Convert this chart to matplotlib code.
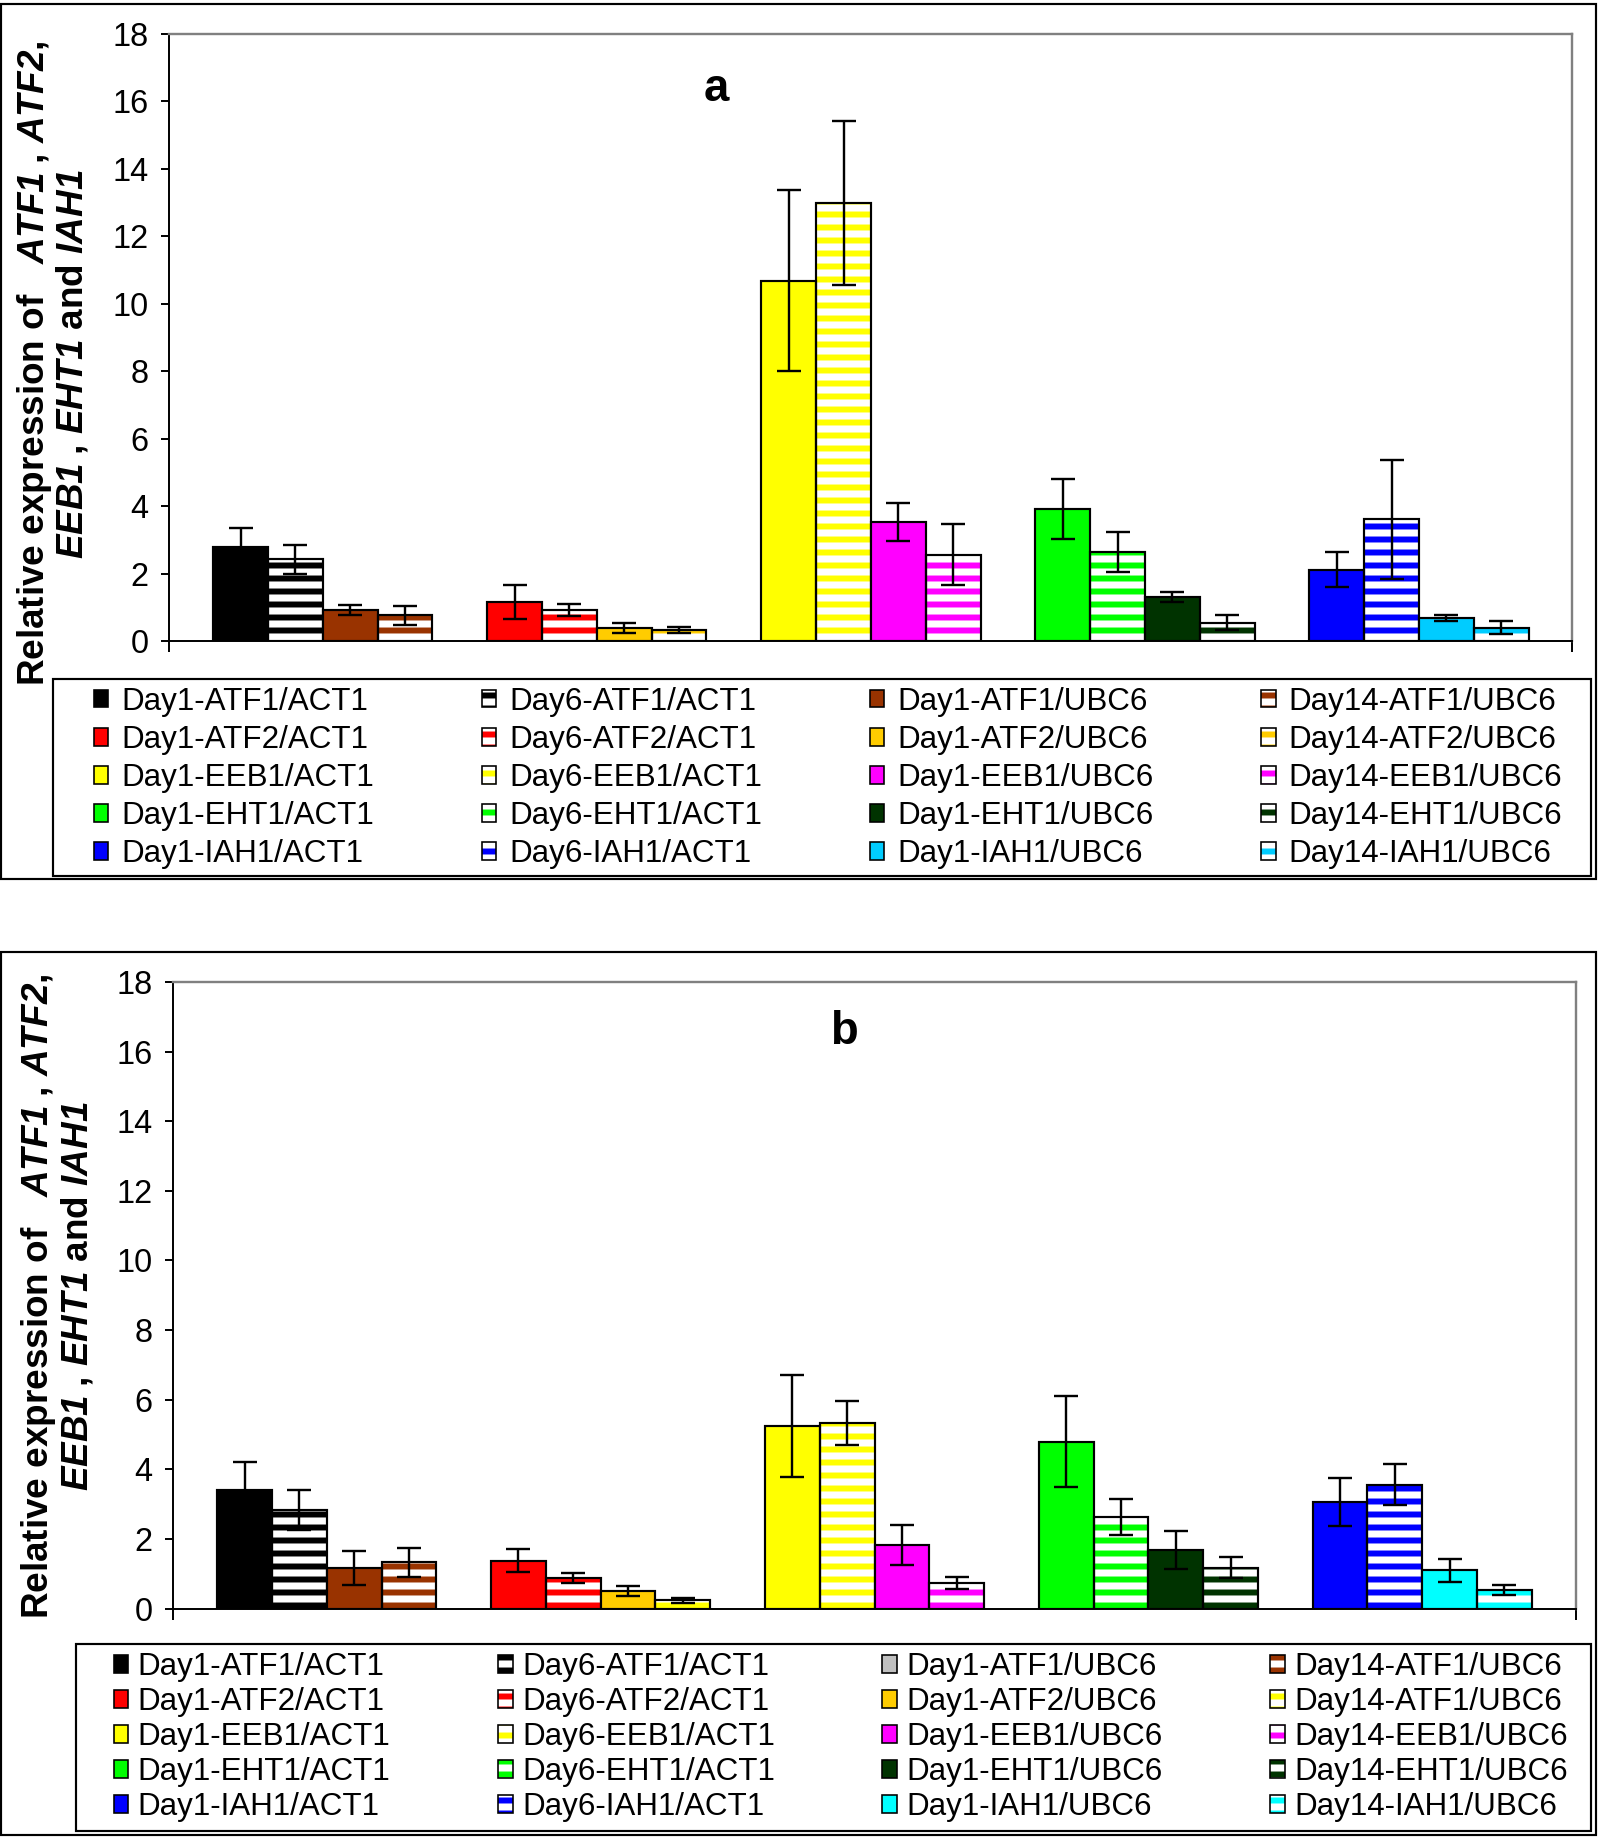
import matplotlib
matplotlib.use('Agg')
import matplotlib.pyplot as plt
from matplotlib.patches import Patch, Rectangle
import numpy as np

DPI = 78

plt.rcParams['font.family'] = ['Liberation Sans', 'DejaVu Sans']
plt.rcParams['hatch.linewidth'] = 5.5
plt.rcParams['mathtext.fontset'] = 'custom'
plt.rcParams['mathtext.rm'] = 'Liberation Sans'
plt.rcParams['mathtext.bf'] = 'Liberation Sans:bold'
plt.rcParams['mathtext.it'] = 'Liberation Sans:italic'
plt.rcParams['mathtext.bfit'] = 'Liberation Sans:italic:bold'

genes = ['ATF1', 'ATF2', 'EEB1', 'EHT1', 'IAH1']

# panel a
day1_act_a = [2.80, 1.15, 10.68, 3.92, 2.11]
day1_act_err_a = [0.56, 0.50, 2.68, 0.90, 0.52]
day6_act_a = [2.42, 0.92, 13.00, 2.64, 3.61]
day6_act_err_a = [0.43, 0.18, 2.43, 0.59, 1.77]
day1_ubc_a = [0.92, 0.40, 3.53, 1.31, 0.69]
day1_ubc_err_a = [0.15, 0.15, 0.56, 0.14, 0.08]
day14_ubc_a = [0.76, 0.33, 2.56, 0.55, 0.40]
day14_ubc_err_a = [0.27, 0.10, 0.90, 0.23, 0.20]

# panel b
day1_act_b = [3.42, 1.38, 5.24, 4.80, 3.05]
day1_act_err_b = [0.79, 0.33, 1.46, 1.31, 0.69]
day6_act_b = [2.84, 0.88, 5.32, 2.63, 3.56]
day6_act_err_b = [0.58, 0.14, 0.63, 0.52, 0.58]
day1_ubc_b = [1.17, 0.51, 1.82, 1.69, 1.10]
day1_ubc_err_b = [0.48, 0.14, 0.58, 0.54, 0.33]
day14_ubc_b = [1.33, 0.24, 0.74, 1.18, 0.53]
day14_ubc_err_b = [0.41, 0.07, 0.18, 0.29, 0.15]

act_colors = ['#000000', '#FF0000', '#FFFF00', '#00FF00', '#0000FF']
ubc_colors_a = ['#993300', '#FFCC00', '#FF00FF', '#003300', '#00CCFF']
ubc_colors_b = ['#993300', '#FFCC00', '#FF00FF', '#003300', '#00FFFF']
ubc14_colors_b = ['#993300', '#FFFF00', '#FF00FF', '#003300', '#00FFFF']

labels_a = ['Day1-%s/ACT1' % g for g in genes] + ['Day6-%s/ACT1' % g for g in genes] + \
           ['Day1-%s/UBC6' % g for g in genes] + ['Day14-%s/UBC6' % g for g in genes]
labels_b = ['Day1-%s/ACT1' % g for g in genes] + ['Day6-%s/ACT1' % g for g in genes] + \
           ['Day1-%s/UBC6' % g for g in genes] + \
           ['Day14-ATF1/UBC6', 'Day14-ATF1/UBC6', 'Day14-EEB1/UBC6', 'Day14-EHT1/UBC6', 'Day14-IAH1/UBC6']
legend_b_ubc_colors = ['#C0C0C0', '#FFCC00', '#FF00FF', '#003300', '#00FFFF']

ylabel_text = (r"$\mathbf{Relative\ expression\ of}\ \ \ \mathbfit{ATF1}\;\mathbf{,}\ \mathbfit{ATF2}\mathbf{,}$" + "\n" +
               r"$\mathbfit{EEB1}\;\mathbf{,}\ \mathbfit{EHT1}\ \mathbf{and}\ \mathbfit{IAH1}$")

BAR_W = 0.2
EDGE_LW = 2.0


def draw_bars(ax, values, errors, colors, striped, pos):
    x = np.arange(len(values)) + pos
    if striped:
        ax.bar(x, values, BAR_W, color='white', edgecolor=colors, hatch='-', linewidth=0, zorder=2)
        ax.bar(x, values, BAR_W, fill=False, edgecolor='black', linewidth=EDGE_LW, zorder=3)
    else:
        ax.bar(x, values, BAR_W, color=colors, edgecolor='black', linewidth=EDGE_LW, zorder=3)
    ax.errorbar(x, values, yerr=errors, fmt='none', ecolor='black', elinewidth=2.2,
                capsize=11, capthick=2.2, zorder=4)


def style_axes(ax, title, tx, ty):
    ax.set_xlim(-0.56, 4.56)
    ax.set_ylim(0, 18)
    ax.set_yticks(range(0, 19, 2))
    ax.set_xticks([-0.56, 4.56])
    ax.set_xticklabels(['', ''])
    ax.tick_params(axis='y', direction='out', length=7, width=1.8, labelsize=30, pad=12)
    ax.tick_params(axis='x', direction='out', length=10, width=1.8)
    for s in ['left', 'bottom']:
        ax.spines[s].set_color('black')
        ax.spines[s].set_linewidth(1.8)
    for s in ['top', 'right']:
        ax.spines[s].set_color('#808080')
        ax.spines[s].set_linewidth(2.2)
    ax.text(tx, ty, title, transform=ax.transAxes, fontsize=42, fontweight='bold',
            ha='center', va='center')


def legend_handles(colors_cols, striped_cols):
    handles = []
    for colors, striped in zip(colors_cols, striped_cols):
        for c in colors:
            if striped:
                handles.append((Patch(facecolor='white', edgecolor=c, hatch='-', linewidth=0),
                                Patch(facecolor='none', edgecolor='black', linewidth=1.5)))
            else:
                handles.append(Patch(facecolor=c, edgecolor='black', linewidth=1.5))
    return handles


fig = plt.figure(figsize=((1598 + 0.01) / DPI, (1837 + 0.01) / DPI), dpi=DPI)

# ---------------- panel a
ax1 = fig.add_axes([0.106, 0.651, 0.984 - 0.106, 0.9815 - 0.651])
draw_bars(ax1, day1_act_a, day1_act_err_a, act_colors, False, -1.5 * BAR_W)
draw_bars(ax1, day6_act_a, day6_act_err_a, act_colors, True, -0.5 * BAR_W)
draw_bars(ax1, day1_ubc_a, day1_ubc_err_a, ubc_colors_a, False, 0.5 * BAR_W)
draw_bars(ax1, day14_ubc_a, day14_ubc_err_a, ubc_colors_a, True, 1.5 * BAR_W)
style_axes(ax1, 'a', 0.39, 0.91)
fig.text(0.033, 0.802, ylabel_text, rotation=90, fontsize=34, ha='center', va='center',
         multialignment='center', linespacing=1.05)

h_a = legend_handles([act_colors, act_colors, ubc_colors_a, ubc_colors_a], [False, True, False, True])
fig.legend(h_a, labels_a, ncol=4, mode='expand', frameon=False, loc='center',
           bbox_to_anchor=(93.7 / 1598, 0.5229, (1562 - 93.7) / 1598, 0.1072),
           fontsize=29, handlelength=0.47, handleheight=0.5, handletextpad=0.4,
           labelspacing=0.26, borderpad=0, borderaxespad=0)
fig.add_artist(Rectangle((0.033, 0.5229), 0.9627, 0.1072, transform=fig.transFigure,
                         fill=False, edgecolor='black', linewidth=2))
fig.add_artist(Rectangle((0.0006, 0.5217), 0.998, 0.998 - 0.5217, transform=fig.transFigure,
                         fill=False, edgecolor='black', linewidth=2))

# ---------------- panel b
ax2 = fig.add_axes([0.1085, 0.1243, 0.986 - 0.1085, 0.4655 - 0.1243])
draw_bars(ax2, day1_act_b, day1_act_err_b, act_colors, False, -1.5 * BAR_W)
draw_bars(ax2, day6_act_b, day6_act_err_b, act_colors, True, -0.5 * BAR_W)
draw_bars(ax2, day1_ubc_b, day1_ubc_err_b, ubc_colors_b, False, 0.5 * BAR_W)
draw_bars(ax2, day14_ubc_b, day14_ubc_err_b, ubc14_colors_b, True, 1.5 * BAR_W)
style_axes(ax2, 'b', 0.478, 0.92)
fig.text(0.036, 0.2945, ylabel_text, rotation=90, fontsize=34, ha='center', va='center',
         multialignment='center', linespacing=1.05)

h_b = legend_handles([act_colors, act_colors, legend_b_ubc_colors, ubc14_colors_b],
                     [False, True, False, True])
h_b[15] = (Patch(facecolor='white', edgecolor='#993300', hatch='-', linewidth=0),
           Patch(facecolor='none', edgecolor='black', linewidth=1.5))
fig.legend(h_b, labels_b, ncol=4, mode='expand', frameon=False, loc='center',
           bbox_to_anchor=(113.6 / 1598, 0.0032, (1567.6 - 113.6) / 1598, 0.102),
           fontsize=29, handlelength=0.47, handleheight=0.5, handletextpad=0.3,
           labelspacing=0.16, borderpad=0, borderaxespad=0)
fig.add_artist(Rectangle((0.0477, 0.0032), 0.948, 0.102, transform=fig.transFigure,
                         fill=False, edgecolor='black', linewidth=2))
fig.add_artist(Rectangle((0.0006, 0.00125), 0.998, 0.4815 - 0.00125, transform=fig.transFigure,
                         fill=False, edgecolor='black', linewidth=2))

fig.savefig('out.png', dpi=DPI)
